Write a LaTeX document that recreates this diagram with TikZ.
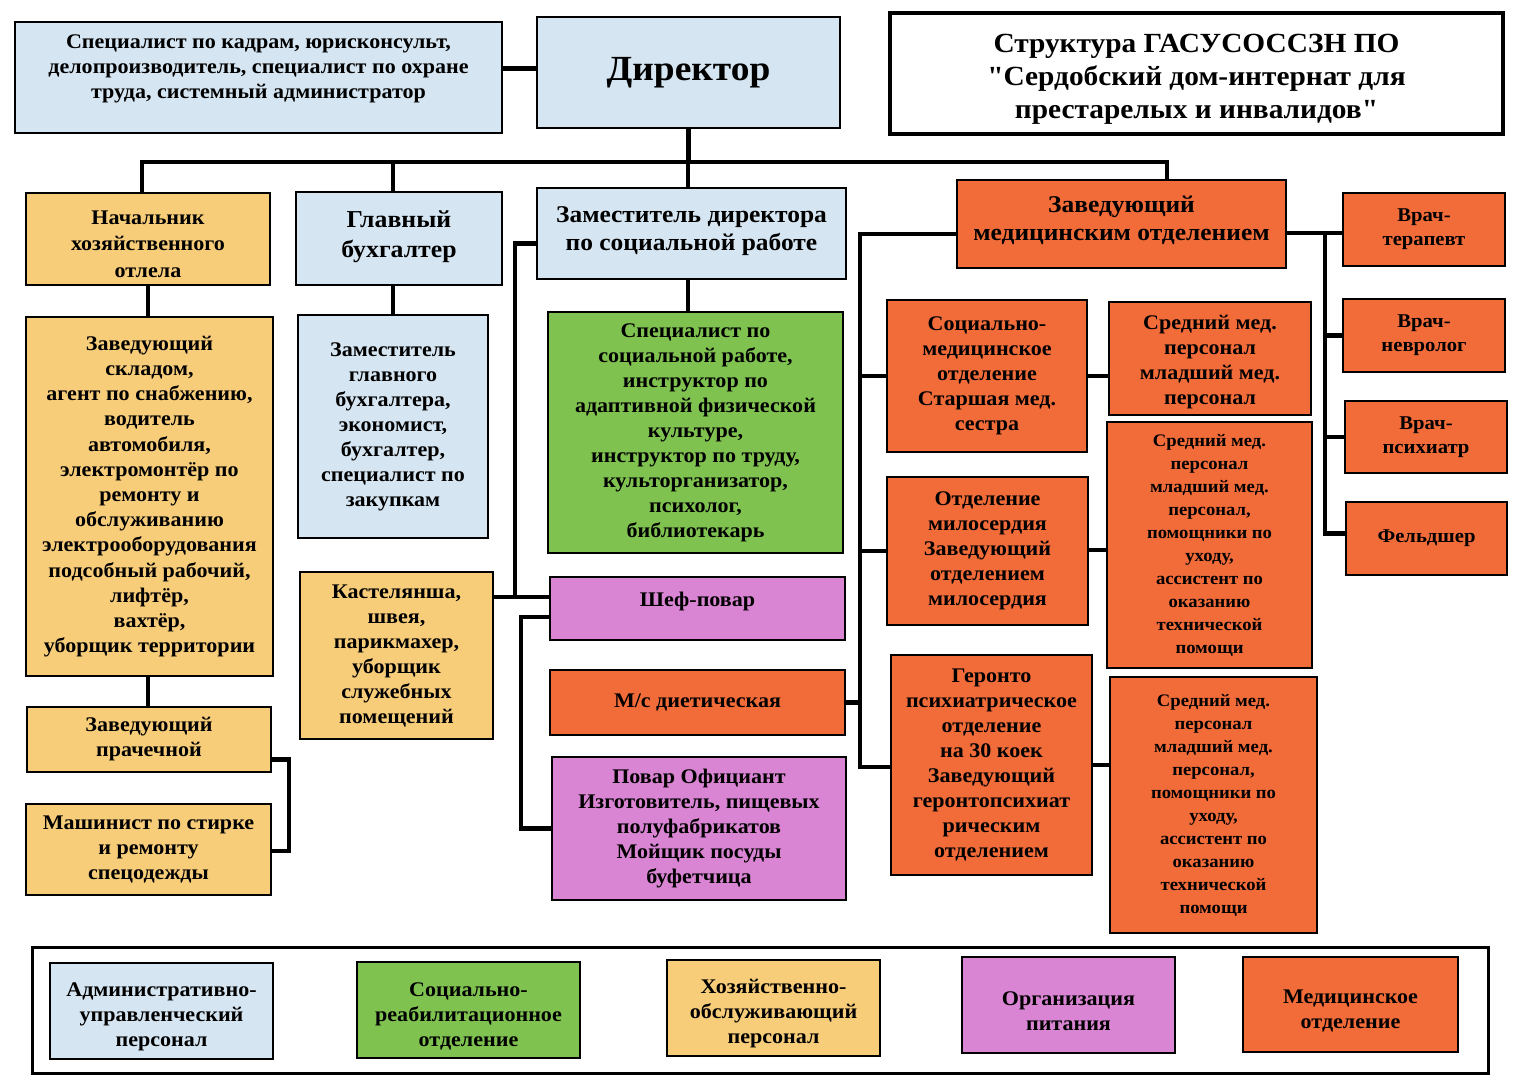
\documentclass[tikz,border=0pt]{standalone}
\usepackage{fontspec}
\setmainfont{Liberation Serif}[FakeStretch=1.06]
\newfontfamily\titlefont{Liberation Serif}[Ligatures=TeXOff, FakeStretch=1.06]
\definecolor{cblue}{HTML}{D5E5F1}
\definecolor{cyel}{HTML}{F8CD7A}
\definecolor{cgreen}{HTML}{80C250}
\definecolor{cviol}{HTML}{D985D3}
\definecolor{cor}{HTML}{F26C3A}
\newcommand{\topstrut}[1]{\rule{0pt}{#1}}
\begin{document}
\begin{tikzpicture}[x=1pt,y=-1pt,
  box/.style={draw=black, line width=2.3pt, align=center, inner sep=1pt,
    font=\bfseries\fontsize{20.8}{25}\selectfont},
  fsmall/.style={font=\bfseries\fontsize{17.6}{23}\selectfont},
  fdoc/.style={font=\bfseries\fontsize{19.5}{24}\selectfont},
  fmid/.style={font=\bfseries\fontsize{24}{28.5}\selectfont},
  conn/.style={line width=4.5pt, line join=miter}]
\useasboundingbox (0,0) rectangle (1531,1080);
% top row
\node[box, fill=cblue, minimum width=487pt, minimum height=111pt] (admin) at (258.5,77.5)
  {Специалист по кадрам, юрисконсульт,\\делопроизводитель, специалист по охране\\труда, системный администратор\\[-4pt]};
\node[box, fill=cblue, minimum width=303pt, minimum height=111pt, font=\bfseries\fontsize{35.3}{40}\selectfont] (dir) at (688.5,72.5) {Директор};
\node[box, fill=white, line width=3.5pt, minimum width=613pt, minimum height=121pt, font=\titlefont\bfseries\fontsize{27.7}{33}\selectfont] (title) at (1196.5,73.5)
  {\topstrut{30pt}Структура ГАСУСОССЗН ПО\\"Сердобский дом-интернат для\\престарелых и инвалидов"};
% second row
\node[box, fill=cyel, minimum width=244pt, minimum height=92pt, font=\bfseries\fontsize{20.8}{26.5}\selectfont] (nach) at (148,239)
  {\topstrut{24pt}Начальник\\хозяйственного\\отлела};
\node[box, fill=cblue, minimum width=206pt, minimum height=93pt, font=\bfseries\fontsize{24.3}{30}\selectfont] (glb) at (399,238.5)
  {Главный\\бухгалтер\\[-22pt]};
\node[box, fill=cblue, minimum width=309pt, minimum height=91pt, fmid] (zam) at (691.5,233.5)
  {Заместитель директора\\по социальной работе\\[-19pt]};
\node[box, fill=cor, minimum width=329pt, minimum height=88pt, fmid] (zavmed) at (1121.5,224)
  {Заведующий\\медицинским отделением\\[-17pt]};
\node[box, fill=cor, minimum width=162pt, minimum height=73pt, fdoc] (ter) at (1424,229.5) {Врач-\\терапевт};
\node[box, fill=cor, minimum width=162pt, minimum height=73pt, fdoc] (nev) at (1424,335.5) {Врач-\\невролог};
\node[box, fill=cor, minimum width=162pt, minimum height=72pt, fdoc] (psy) at (1426,437) {Врач-\\психиатр};
\node[box, fill=cor, minimum width=161pt, minimum height=73pt, fdoc] (feld) at (1426.5,538.5) {Фельдшер};
% left column
\node[box, fill=cyel, minimum width=247pt, minimum height=359pt, font=\bfseries\fontsize{20.8}{25.2}\selectfont] (sklad) at (149.5,496.5)
  {Заведующий\\складом,\\агент по снабжению,\\водитель\\автомобиля,\\электромонтёр по\\ремонту и\\обслуживанию\\электрооборудования\\подсобный рабочий,\\лифтёр,\\вахтёр,\\уборщик территории};
\node[box, fill=cyel, minimum width=244pt, minimum height=65pt] (prach) at (149,739.5)
  {Заведующий\\прачечной};
\node[box, fill=cyel, minimum width=245pt, minimum height=91pt] (mash) at (148.5,849.5)
  {Машинист по стирке\\и ремонту\\спецодежды};
% second column
\node[box, fill=cblue, minimum width=190pt, minimum height=223pt] (zgb) at (393,426.5)
  {Заместитель\\главного\\бухгалтера,\\экономист,\\бухгалтер,\\специалист по\\закупкам};
\node[box, fill=cyel, minimum width=193pt, minimum height=167pt] (kast) at (396.5,655.5)
  {Кастелянша,\\швея,\\парикмахер,\\уборщик\\служебных\\помещений};
% middle column
\node[box, fill=cgreen, minimum width=295pt, minimum height=241pt] (spec) at (695.5,432.5)
  {Специалист по\\социальной работе,\\инструктор по\\адаптивной физической\\культуре,\\инструктор по труду,\\культорганизатор,\\психолог,\\библиотекарь};
\node[box, fill=cviol, minimum width=295pt, minimum height=63pt] (chef) at (697.5,608.5) {Шеф-повар\\[-6pt]};
\node[box, fill=cor, minimum width=295pt, minimum height=65pt] (diet) at (697.5,702.5) {М/с диетическая};
\node[box, fill=cviol, minimum width=294pt, minimum height=143pt] (povar) at (699,828.5)
  {Повар Официант\\Изготовитель, пищевых\\полуфабрикатов\\Мойщик посуды\\буфетчица};
% medical
\node[box, fill=cor, minimum width=200pt, minimum height=152pt] (socmed) at (987,376)
  {Социально-\\медицинское\\отделение\\Старшая мед.\\сестра};
\node[box, fill=cor, minimum width=202pt, minimum height=113pt] (sr1) at (1210,358.5)
  {\topstrut{22pt}Средний мед.\\персонал\\младший мед.\\персонал};
\node[box, fill=cor, minimum width=205pt, minimum height=246pt, fsmall] (sr2) at (1209.5,545)
  {Средний мед.\\персонал\\младший мед.\\персонал,\\помощники по\\уходу,\\ассистент по\\оказанию\\технической\\помощи};
\node[box, fill=cor, minimum width=201pt, minimum height=148pt] (milo) at (987.5,551)
  {Отделение\\милосердия\\Заведующий\\отделением\\милосердия};
\node[box, fill=cor, minimum width=201pt, minimum height=220pt] (geron) at (991.5,765)
  {Геронто\\психиатрическое\\отделение\\на 30 коек\\Заведующий\\геронтопсихиат\\рическим\\отделением};
\node[box, fill=cor, minimum width=207pt, minimum height=256pt, fsmall] (sr3) at (1213.5,805)
  {Средний мед.\\персонал\\младший мед.\\персонал,\\помощники по\\уходу,\\ассистент по\\оказанию\\технической\\помощи};
% legend
\node[draw=black, line width=3pt, minimum width=1456pt, minimum height=126pt] (legend) at (760,1010) {};
\node[box, fill=cblue, minimum width=223pt, minimum height=96pt] (lg1) at (161.5,1011)
  {\topstrut{26pt}Административно-\\управленческий\\персонал};
\node[box, fill=cgreen, minimum width=223pt, minimum height=96pt] (lg2) at (468.5,1010)
  {\topstrut{26pt}Социально-\\реабилитационное\\отделение};
\node[box, fill=cyel, minimum width=213pt, minimum height=96pt] (lg3) at (773.5,1008)
  {\topstrut{26pt}Хозяйственно-\\обслуживающий\\персонал};
\node[box, fill=cviol, minimum width=213pt, minimum height=96pt] (lg4) at (1068.5,1005)
  {\topstrut{26pt}Организация\\питания};
\node[box, fill=cor, minimum width=215pt, minimum height=95pt] (lg5) at (1350.5,1004.5)
  {\topstrut{26pt}Медицинское\\отделение};
% connectors
\coordinate (bus) at (688,162);
\draw[conn] ([yshift=4pt]dir.west) -- ([yshift=4pt]dir.west -| admin.east);
\draw[conn] (dir.south) -- (dir.south |- bus);
\draw[conn] ([xshift=-6pt]nach.north) |- (bus) -| ([xshift=45.5pt]zavmed.north);
\draw[conn] (zgb.north |- glb.north) -- (zgb.north |- bus);
\draw[conn] (zam.north -| bus) -- (bus);
\draw[conn] (nach.south) -- (nach.south |- sklad.north);
\draw[conn] (zgb.north) -- (zgb.north |- glb.south);
\draw[conn] (zam.south -| bus) -- (spec.north -| bus);
\draw[conn] (sklad.south -| nach.south) -- (prach.north -| nach.south);
\draw[conn] ([yshift=-20pt]prach.east) -- ++(17,0) |- ([yshift=-1.5pt]mash.east);
\coordinate (j1) at (515,597);
\draw[conn] ([yshift=-10pt]zam.west) -| (j1);
\draw[conn] (kast.east |- j1) -- (chef.west |- j1);
\draw[conn] ([yshift=-8.5pt]chef.west) -- ++(-28,0) |- (povar.west);
\coordinate (vbot) at (860,767);
\draw[conn] ([yshift=-10pt]zavmed.west) -| (vbot) -- (geron.west |- vbot);
\draw[conn] (socmed.west) -- (socmed.west -| vbot);
\draw[conn] (milo.west) -- (milo.west -| vbot);
\draw[conn] (diet.east) -- (diet.east -| vbot);
\draw[conn] (socmed.east) -- (socmed.east -| sr1.west);
\draw[conn] ([yshift=1pt]milo.east) -- ([yshift=1pt]milo.east -| sr2.west);
\draw[conn] (geron.east) -- (geron.east -| sr3.west);
\coordinate (rv) at (1325,233);
\draw[conn] ([yshift=-9pt]zavmed.east) -- (ter.west |- rv);
\draw[conn] (rv) |- ([yshift=5pt]feld.west);
\draw[conn] (nev.west) -- (nev.west -| rv);
\draw[conn] (psy.west) -- (psy.west -| rv);
\end{tikzpicture}
\end{document}
